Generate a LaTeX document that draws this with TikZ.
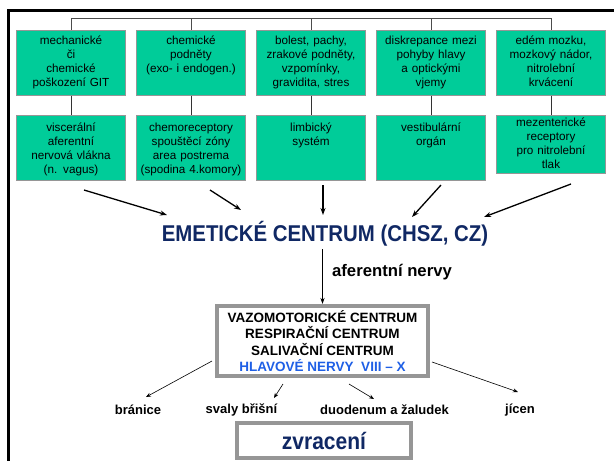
\documentclass[tikz,border=0pt]{standalone}
\usepackage{fontspec}
\setmainfont{Liberation Sans}
\usepackage{tikz}
\usetikzlibrary{calc,arrows.meta}
\definecolor{cellgreen}{RGB}{0,204,153}
\definecolor{cellgray}{RGB}{150,150,150}
\definecolor{navy}{RGB}{16,40,100}
\definecolor{nerveblue}{RGB}{30,95,230}
\newcommand{\cellw}{105pt}
\newcommand{\cellfont}{\fontsize{11.7}{14}\selectfont}
\newcommand{\tall}[1]{\scalebox{1}[1.12]{#1}}

\begin{document}
\begin{tikzpicture}[x=1pt,y=-1pt,
    cell/.style={draw=cellgray, fill=cellgreen, line width=1pt, anchor=north,
      text width=\cellw, align=center, inner xsep=2pt, inner ysep=3pt, font=\cellfont},
    upper/.style={cell, text height=11.7pt, text depth=47.3pt},
    lower/.style={cell, text height=13.7pt, text depth=45.3pt},
    frame/.style={draw=cellgray, line width=4pt, fill=white},
    bigarr/.style={line width=1.3pt, -{Stealth[length=7pt,width=5pt]}},
    thinarr/.style={line width=.6pt, -{Stealth[length=5pt,width=4pt]}},
    organ/.style={font=\fontsize{13}{15}\selectfont\bfseries}]

      \useasboundingbox (0,0) rectangle (614,461);
      \draw[line width=3pt] (8,470) -- (8,10) -- (620,10);

      % stimuli
      \node (mech) at (71,29.5)  [upper] {mechanické\\či\\chemické\\poškození GIT};
      \node (chem) at (191,29.5) [upper] {chemické\\podněty\\(exo- i endogen.)};
      \node (bol) at (311,29.5)  [upper] {bolest, pachy,\\zrakové podněty,\\vzpomínky,\\gravidita, stres};
      \node (disk) at (431,29.5) [upper] {diskrepance mezi\\pohyby hlavy\\a optickými\\vjemy};
      \node (edem) at (551,29.5) [upper] {edém mozku,\\mozkový nádor,\\nitrolební\\krvácení};

      % receptors
      \node (visc) at (71,114.5)  [lower] {viscerální\\aferentní\\nervová vlákna\\(n. vagus)};
      \node (chemo) at (191,114.5) [lower] {chemoreceptory\\spouštěcí zóny\\area postrema\\(spodina 4.komory)};
      \node (limb) at (311,114.5)  [lower] {limbický\\systém};
      \node (vest) at (431,114.5)  [lower] {vestibulární\\orgán};
      \node (mez) at (551,114.5)   [cell, text height=8.7pt, text depth=43.3pt] {mezenterické\\receptory\\pro nitrolební\\tlak};

      \coordinate (bar) at (0,18);
      \draw[black!70, line width=1pt]
        (mech.north) -- (mech.north |- bar) -- (edem.north |- bar) -- (edem.north)
        (chem.north) -- (chem.north |- bar)
        (bol.north) -- (bol.north |- bar)
        (disk.north) -- (disk.north |- bar);
      \draw[black!80, line width=1pt]
        (mech) -- (visc) (chem) -- (chemo) (bol) -- (limb)
        (disk) -- (vest) (edem) -- (mez);

      \node (emet) at (325,234) [font=\fontsize{20.4}{24}\selectfont\bfseries, text=navy, inner sep=0pt]
        {\tall{EMETICKÉ CENTRUM (CHSZ, CZ)}};

      \coordinate (u1) at (84,190);  \coordinate (v1) at (167,215);
      \coordinate (u2) at (210,190); \coordinate (v2) at (241,210);
      \coordinate (u3) at (323,185); \coordinate (v3) at (323,215);
      \coordinate (u4) at (441,185); \coordinate (v4) at (412,217);
      \coordinate (u5) at (571,184); \coordinate (v5) at (484,217);
      \foreach \i in {1,...,5}
        \draw[bigarr] (u\i) -- (v\i);

      \node (vaso) at (322.5,341) [frame, minimum width=211pt, minimum height=70pt, align=center,
        inner sep=0pt, font=\fontsize{13.5}{16.3}\selectfont\bfseries]
        {VAZOMOTORICKÉ CENTRUM\\RESPIRAČNÍ CENTRUM\\SALIVAČNÍ CENTRUM\\
         \textcolor{nerveblue}{HLAVOVÉ NERVY~~VIII – X}};

      \draw[line width=1pt, -{Stealth[length=6pt,width=4pt]}] (vaso.north |- 0,249) -- (vaso.north);
      \node (afer) at (392,272) [font=\fontsize{16.7}{19}\selectfont\bfseries] {aferentní nervy};

      \node (bran) at (138,410) [organ] {bránice};
      \node (sval) at (241.5,410) [organ] {svaly břišní};
      \node (duod) at (384.5,410) [organ] {duodenum a žaludek};
      \node (jicen) at (520,410) [organ] {jícen};

      \coordinate (w1) at (212,361); \coordinate (z1) at (146,397);
      \coordinate (w2) at (283,384); \coordinate (z2) at (274,398);
      \coordinate (w3) at (349,384); \coordinate (z3) at (374,399);
      \coordinate (w4) at (432,362); \coordinate (z4) at (518,392);
      \foreach \i in {1,...,4}
        \draw[thinarr] (w\i) -- (z\i);

      \node (zvrac) at (324,440.5) [frame, minimum width=174pt, minimum height=35pt, inner sep=0pt,
        font=\fontsize{21}{24}\selectfont\bfseries, text=navy] {\tall{zvracení}};

\end{tikzpicture}
\end{document}
